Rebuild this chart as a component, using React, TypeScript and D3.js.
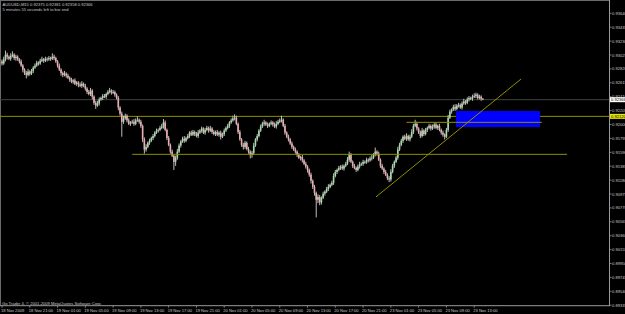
import React from 'react';
import * as d3 from 'd3';

// ---- AUDUSD M15 closes, 18 Nov 2009 17:00 -> 23 Nov 2009 14:15 ----
const closes = [
  0.9290,0.9296,0.9303,0.9300,0.9297,0.9301,0.9303,0.9298,0.9300,0.9296,
  0.9293,0.9287,0.9281,0.9276,0.9273,0.9278,0.9275,0.9279,0.9284,0.9287,
  0.9291,0.9290,0.9294,0.9296,0.9294,0.9297,0.9296,0.9298,0.9297,0.9300,
  0.9298,0.9293,0.9287,0.9281,0.9276,0.9273,0.9275,0.9272,0.9269,0.9266,
  0.9263,0.9265,0.9260,0.9262,0.9259,0.9257,0.9260,0.9257,0.9253,0.9248,
  0.9245,0.9250,0.9241,0.9232,0.9228,0.9231,0.9237,0.9239,0.9242,0.9241,
  0.9245,0.9248,0.9250,0.9247,0.9248,0.9244,0.9239,0.9225,0.9216,0.9204,
  0.9209,0.9213,0.9206,0.9201,0.9203,0.9204,0.9201,0.9206,0.9207,0.9204,
  0.9198,0.9178,0.9163,0.9167,0.9173,0.9176,0.9180,0.9183,0.9188,0.9191,
  0.9192,0.9195,0.9197,0.9203,0.9192,0.9180,0.9170,0.9160,0.9154,0.9145,
  0.9151,0.9160,0.9169,0.9175,0.9179,0.9176,0.9180,0.9183,0.9188,0.9185,
  0.9189,0.9186,0.9183,0.9188,0.9191,0.9194,0.9188,0.9192,0.9195,0.9191,
  0.9194,0.9189,0.9186,0.9189,0.9185,0.9188,0.9182,0.9186,0.9191,0.9195,
  0.9198,0.9203,0.9206,0.9209,0.9210,0.9201,0.9189,0.9178,0.9170,0.9167,
  0.9173,0.9164,0.9160,0.9155,0.9158,0.9169,0.9178,0.9183,0.9191,0.9197,
  0.9201,0.9203,0.9200,0.9198,0.9201,0.9203,0.9200,0.9197,0.9201,0.9204,
  0.9206,0.9207,0.9198,0.9188,0.9182,0.9178,0.9172,0.9167,0.9163,0.9160,
  0.9155,0.9151,0.9152,0.9147,0.9142,0.9138,0.9133,0.9126,0.9117,0.9108,
  0.9099,0.9089,0.9093,0.9085,0.9092,0.9098,0.9101,0.9105,0.9108,0.9111,
  0.9114,0.9124,0.9130,0.9133,0.9136,0.9138,0.9135,0.9139,0.9142,0.9148,
  0.9155,0.9145,0.9139,0.9136,0.9133,0.9138,0.9141,0.9142,0.9145,0.9144,
  0.9148,0.9147,0.9150,0.9151,0.9155,0.9160,0.9157,0.9148,0.9139,0.9135,
  0.9130,0.9126,0.9121,0.9119,0.9130,0.9139,0.9145,0.9151,0.9163,0.9170,
  0.9176,0.9182,0.9179,0.9183,0.9178,0.9182,0.9189,0.9198,0.9201,0.9194,
  0.9188,0.9183,0.9191,0.9186,0.9192,0.9195,0.9198,0.9194,0.9197,0.9200,
  0.9195,0.9198,0.9192,0.9188,0.9185,0.9182,0.9192,0.9210,0.9219,0.9222,
  0.9226,0.9223,0.9228,0.9229,0.9225,0.9231,0.9234,0.9232,0.9237,0.9239,
  0.9238,0.9241,0.9242,0.9244,0.9239,0.9241,0.9238,0.9237,
];
// upper / lower wick beyond the body, in pips
const upperWicks = [
  3,4,6,3,2,4,5,2,3,2, 2,3,2,2,3,4,2,3,2,3, 3,2,3,4,2,3,2,3,2,5,
  3,2,2,3,2,2,4,2,3,2, 3,2,3,2,2,3,4,2,3,2, 3,4,2,2,3,4,3,2,3,3,
  2,3,4,2,3,2,2,3,2,3, 4,3,2,3,2,3,4,3,5,2, 3,2,3,4,2,3,2,3,2,3,
  2,3,4,5,3,2,3,2,3,2, 3,4,3,2,3,4,2,3,2,3, 3,2,3,4,2,3,2,3,3,2,
  4,2,3,2,3,2,3,2,3,2, 3,2,3,4,5,3,2,3,2,3, 3,2,3,2,3,4,2,3,2,3,
  3,4,2,3,2,3,2,3,4,3, 3,6,2,3,2,3,2,3,2,3, 2,3,2,3,2,3,2,2,3,2,
  3,2,4,3,2,3,2,3,4,2, 3,4,3,2,3,2,3,2,3,4, 5,3,2,3,2,3,4,2,3,2,
  3,2,3,4,3,6,2,3,2,3, 2,3,2,3,4,3,2,3,4,3, 3,2,3,4,2,3,4,3,6,3,
  2,3,4,2,3,2,3,2,3,2, 3,2,3,2,3,2,3,4,3,2, 3,4,2,3,2,3,4,2,3,3,
  2,3,4,3,2,3,2,1,
];
const lowerWicks = [
  3,2,3,4,2,3,2,3,4,2, 3,2,4,3,5,2,3,2,3,2, 2,3,2,2,3,2,3,2,3,2,
  3,2,3,2,4,3,2,3,2,3, 2,3,2,3,4,2,3,2,3,3, 2,3,4,3,5,2,3,2,3,2,
  3,2,2,3,2,3,2,4,3,22, 3,2,3,2,3,2,3,2,2,3, 3,4,6,3,2,3,2,3,2,2,
  3,2,2,3,2,3,2,3,2,12, 6,3,2,3,2,3,2,2,3,2, 2,3,2,3,2,3,2,3,2,3,
  2,3,2,3,2,3,4,2,3,2, 2,3,2,2,3,2,3,2,3,4, 3,2,3,5,4,3,2,3,2,2,
  2,3,2,3,2,2,3,2,3,2, 2,3,2,3,2,3,2,3,2,3, 3,2,4,3,2,3,4,3,4,3,
  4,26,5,4,3,2,3,2,3,2, 2,3,2,3,2,3,2,3,2,2, 3,2,3,2,3,2,3,2,3,2,
  2,3,2,3,2,2,3,2,3,2, 3,2,3,4,3,2,3,2,3,2, 2,3,2,3,2,3,2,3,2,3,
  2,3,2,3,2,3,2,3,2,3, 2,3,2,3,3,4,2,3,2,3, 2,3,2,3,2,3,2,3,2,3,
  2,3,2,3,2,2,3,1,
];
const firstOpen = 0.9293;
const PIP = 0.0001;

const priceTicks = [
  '0.93640','0.93435','0.93230','0.93025','0.92820','0.92615','0.92410','0.92205',
  '0.92000','0.91795','0.91590','0.91385','0.91180','0.90975','0.90770','0.90565',
  '0.90360','0.90155','0.89950','0.89745','0.89540','0.89335',
];
const timeLabels = [
  '18 Nov 2009','18 Nov 21:00','19 Nov 01:00','19 Nov 05:00','19 Nov 09:00','19 Nov 13:00',
  '19 Nov 17:00','19 Nov 21:00','20 Nov 01:00','20 Nov 05:00','20 Nov 09:00','20 Nov 13:00',
  '20 Nov 17:00','20 Nov 21:00','23 Nov 01:00','23 Nov 05:00','23 Nov 09:00','23 Nov 13:00',
];
const timeLabelBars = [0,16,32,48,64,80,96,112,128,144,160,176,192,208,224,240,256,272];

const headerLine1 = 'AUDUSD,M15  0.92375 0.92381 0.92358 0.92366';
const headerLine2 = '5 minutes 55 seconds left to bar end';
const copyright = 'Go Trader 4, \u00a9 2001-2009 MetaQuotes Software Corp.';

// drawn objects (bar index, price)
const bidPrice = 0.92366;
const bidLabel = '0.92366';
const hLinePrice = 0.9212;
const hLineLabel = '0.92120';
const supportSeg = [[75, 0.9156], [325.5, 0.9156]];
const resistSeg = [[233, 0.92032], [311, 0.92032]];
const trendLine = [[215.4, 0.90931], [299, 0.92671]];
const zoneBox = [[261.5, 0.92199], [310, 0.91963]];

const W = 625, H = 314;
const AXIS_X = 609.5, AXIS_Y = 305.7;
const FONT = "'Liberation Sans', Arial, sans-serif";
const FS = 4.1;

export default function App() {
  const x = d3.scaleLinear().domain([0, 277]).range([2, 2 + 277 * 1.736]);
  const y = d3.scaleLinear().domain([0.89335, 0.9364]).range([305.2, 13.3]);
  const tickY = d3.scaleLinear().domain([0, priceTicks.length - 1]).range([y(0.9364), y(0.89335)]);

  const bars = closes.map((c, i) => {
    const o = i === 0 ? firstOpen : closes[i - 1];
    const h = Math.max(o, c) + upperWicks[i] * PIP;
    const l = Math.min(o, c) - lowerWicks[i] * PIP;
    return { i, o, h, l, c };
  });

  const lineGen = d3.line<number[]>().x(d => x(d[0])).y(d => y(d[1]));
  const olive = '#8e8e00';

  return (
    <svg width={W} height={H} style={{ position: 'absolute', left: 0, top: 0, background: '#000', display: 'block' }}>
      <rect x={0} y={0} width={W} height={H} fill="#000" />
      {/* frame */}
      <line x1={0} x2={AXIS_X} y1={0.5} y2={0.5} stroke="#6a6a6a" strokeWidth={1} />
      <line x1={0.5} x2={0.5} y1={0} y2={AXIS_Y} stroke="#6a6a6a" strokeWidth={1} />
      {/* bid line */}
      <line x1={0} x2={AXIS_X} y1={y(bidPrice)} y2={y(bidPrice)} stroke="#424242" strokeWidth={1} />
      {/* horizontal line */}
      <line x1={0} x2={AXIS_X} y1={y(hLinePrice)} y2={y(hLinePrice)} stroke={olive} strokeWidth={1} />
      {/* zone rectangle */}
      <rect
        x={x(zoneBox[0][0])}
        y={y(zoneBox[0][1])}
        width={x(zoneBox[1][0]) - x(zoneBox[0][0])}
        height={y(zoneBox[1][1]) - y(zoneBox[0][1])}
        fill="#0000ff"
      />
      {/* candles */}
      <g>
        {bars.map(b => {
          const cx = x(b.i);
          const up = b.c >= b.o;
          const top = y(Math.max(b.o, b.c));
          const bot = y(Math.min(b.o, b.c));
          return (
            <g key={b.i}>
              <rect x={cx - 0.5} y={y(b.h)} width={1} height={Math.max(1, y(b.l) - y(b.h))} fill="#bdbdbd" />
              <rect x={cx - 0.8} y={top} width={1.6} height={Math.max(0.8, bot - top)} fill={up ? '#a6dca6' : '#eeaab2'} />
            </g>
          );
        })}
      </g>
      {/* trend objects */}
      <path d={lineGen(supportSeg) || ''} stroke={olive} strokeWidth={1} fill="none" />
      <path d={lineGen(resistSeg) || ''} stroke={olive} strokeWidth={1} fill="none" />
      <path d={lineGen(trendLine) || ''} stroke={olive} strokeWidth={1} fill="none" />
      {/* header */}
      <text x={2.5} y={6.3} fontSize={FS} fontFamily={FONT} fill="#c8c8c8">{headerLine1}</text>
      <text x={2.5} y={10.8} fontSize={FS} fontFamily={FONT} fill="#c8c8c8">{headerLine2}</text>
      <text x={2} y={304.6} fontSize={FS} fontFamily={FONT} fill="#c8c8c8">{copyright}</text>
      {/* axes */}
      <line x1={AXIS_X} x2={AXIS_X} y1={0} y2={AXIS_Y + 0.5} stroke="#9a9a9a" strokeWidth={1} />
      <line x1={0} x2={AXIS_X} y1={AXIS_Y} y2={AXIS_Y} stroke="#9a9a9a" strokeWidth={1} />
      {priceTicks.map((t, k) => (
        <g key={t}>
          <line x1={AXIS_X} x2={AXIS_X + 2} y1={tickY(k)} y2={tickY(k)} stroke="#9a9a9a" strokeWidth={0.8} />
          <text x={612} y={tickY(k)} dominantBaseline="central" fontSize={FS} fontFamily={FONT} fill="#c8c8c8">{t}</text>
        </g>
      ))}
      {/* price boxes */}
      <rect x={610} y={y(bidPrice) - 2.5} width={16} height={5} fill="#ffffff" />
      <text x={611} y={y(bidPrice)} dominantBaseline="central" fontSize={FS} fontFamily={FONT} fill="#000">{bidLabel}</text>
      <rect x={610} y={y(hLinePrice) - 2.5} width={16} height={5} fill="#e6e600" />
      <text x={611} y={y(hLinePrice)} dominantBaseline="central" fontSize={FS} fontFamily={FONT} fill="#000">{hLineLabel}</text>
      {timeLabels.map((t, k) => {
        const tx = x(timeLabelBars[k]);
        return (
          <g key={t}>
            <line x1={tx} x2={tx} y1={AXIS_Y} y2={AXIS_Y + 2} stroke="#9a9a9a" strokeWidth={0.8} />
            <text x={tx - 1} y={312.3} fontSize={FS} fontFamily={FONT} fill="#c8c8c8">{t}</text>
          </g>
        );
      })}
    </svg>
  );
}
